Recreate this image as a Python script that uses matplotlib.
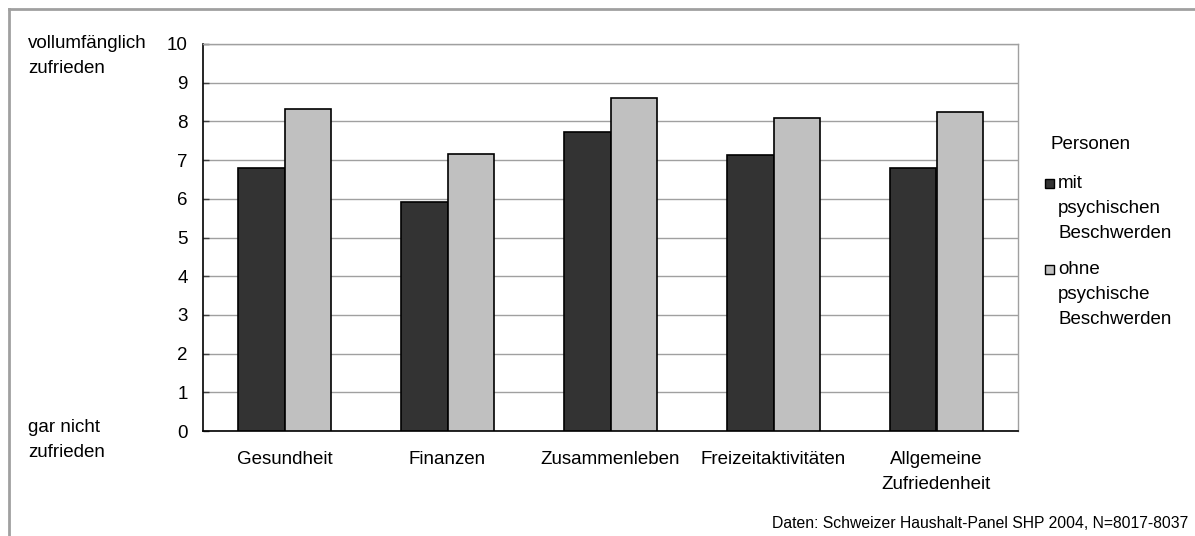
import matplotlib
matplotlib.use("Agg")
import matplotlib.pyplot as plt
from matplotlib.lines import Line2D
from matplotlib.patches import Rectangle
import numpy as np

plt.rcParams['font.family'] = ['Liberation Sans', 'DejaVu Sans']

# data
categories = ['Gesundheit', 'Finanzen', 'Zusammenleben', 'Freizeitaktivitäten',
              'Allgemeine\nZufriedenheit']
mit_beschwerden = [6.8, 5.92, 7.73, 7.13, 6.8]
ohne_beschwerden = [8.33, 7.17, 8.6, 8.1, 8.24]
series_labels = ['mit\npsychischen\nBeschwerden', 'ohne\npsychische\nBeschwerden']
series_colors = ['#333333', '#c0c0c0']
yticks = list(range(0, 11))

W, H = 1195, 536
FS = 13.5
LS = 1.6
fig = plt.figure(figsize=(W / 100, H / 100), dpi=100)
ax = fig.add_axes([203 / W, 1 - 431 / H, (1018 - 203) / W, (431 - 44) / H])

x = np.arange(len(categories))
bw = 0.288
ax.bar(x - bw / 2, mit_beschwerden, bw, color=series_colors[0], edgecolor='black',
       linewidth=1.2, zorder=3)
ax.bar(x + bw / 2, ohne_beschwerden, bw, color=series_colors[1], edgecolor='black',
       linewidth=1.2, zorder=3)

ax.set_xlim(-0.5, len(categories) - 0.5)
ax.set_ylim(0, 10)
ax.set_yticks(yticks)
ax.yaxis.grid(True, color='#a0a0a0', linewidth=1, zorder=0)
ax.set_axisbelow(True)
ax.tick_params(axis='y', direction='in', length=4, width=1, labelsize=FS,
               pad=11, color='#404040')
ax.set_xticks(x)
ax.set_xticklabels(categories, fontsize=FS, linespacing=LS)
ax.tick_params(axis='x', length=0, pad=14.5)
for s in ['left', 'bottom']:
    ax.spines[s].set_color('black')
    ax.spines[s].set_linewidth(1.2)
for s in ['top', 'right']:
    ax.spines[s].set_color('#a0a0a0')
    ax.spines[s].set_linewidth(1)

# left scale descriptions
fig.text(28 / W, 1 - 35 / H, 'vollumfänglich\nzufrieden', fontsize=FS,
         va='top', ha='left', linespacing=LS)
fig.text(28 / W, 1 - 419 / H, 'gar nicht\nzufrieden', fontsize=FS,
         va='top', ha='left', linespacing=LS)

# legend (drawn by hand so the swatch sits on the first line)
fig.text(1050 / W, 1 - 145 / H, 'Personen', fontsize=FS, va='center', ha='left')
for i, (lab, col) in enumerate(zip(series_labels, series_colors)):
    y0 = 183 + i * 86
    fig.add_artist(Rectangle((1045 / W, 1 - (y0 + 4.5) / H), 9 / W, 9 / H,
                             transform=fig.transFigure, facecolor=col,
                             edgecolor='black', linewidth=1))
    fig.text(1058 / W, 1 - (y0 - 8) / H, lab, fontsize=FS, va='top', ha='left',
             linespacing=LS)

# source note
fig.text(1188 / W, 1 - 523 / H, 'Daten: Schweizer Haushalt-Panel SHP 2004, N=8017-8037',
         fontsize=11.3, ha='right', va='center')

# outer frame (top and left edge visible)
fig.add_artist(Line2D([8.5 / W, 8.5 / W], [0, 1 - 8.5 / H], transform=fig.transFigure,
                      color='#a0a0a0', linewidth=2))
fig.add_artist(Line2D([8.5 / W, 1], [1 - 8.5 / H, 1 - 8.5 / H], transform=fig.transFigure,
                      color='#a0a0a0', linewidth=2))

fig.savefig('out.png', dpi=100)
